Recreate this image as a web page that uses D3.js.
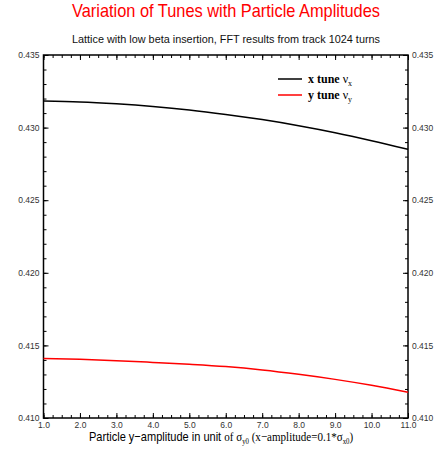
<!DOCTYPE html>
<html>
<head>
<meta charset="utf-8">
<script src="https://cdn.jsdelivr.net/npm/d3@7"></script>
<style>
  body { margin: 0; background: #fff; }
  svg { display: block; }
</style>
</head>
<body>
<div id="chart"></div>
<script>
// amplitude in units of sigma_y0
var amplitudes = [1, 2, 3, 4, 5, 6, 7, 8, 9, 10, 11];
var xTune = [0.43183, 0.43177, 0.43164, 0.43146, 0.43122, 0.43091, 0.43055, 0.43013, 0.42965, 0.42910, 0.42850];
var yTune = [0.41409, 0.41404, 0.41395, 0.41383, 0.41370, 0.41354, 0.41331, 0.41301, 0.41266, 0.41225, 0.41177];
var xTicks = [1, 2, 3, 4, 5, 6, 7, 8, 9, 10, 11];
var yTicks = [0.410, 0.415, 0.420, 0.425, 0.430, 0.435];

var W = 438, H = 451;
var margin = {top: 55, right: 30, bottom: 33, left: 43.5},
    width = W - margin.left - margin.right,
    height = H - margin.top - margin.bottom;

var svg = d3.select("#chart")
  .append("svg")
    .attr("width", W)
    .attr("height", H);

// titles use a narrow face in the original, so squeeze them to width
svg.append("text")
  .attr("x", 72).attr("y", 17)
  .attr("textLength", 308).attr("lengthAdjust", "spacingAndGlyphs")
  .attr("font-family", "Liberation Sans, Arial, sans-serif")
  .attr("font-size", 18.5)
  .attr("fill", "#ff0000")
  .text("Variation of Tunes with Particle Amplitudes");

svg.append("text")
  .attr("x", 72).attr("y", 43)
  .attr("textLength", 308).attr("lengthAdjust", "spacingAndGlyphs")
  .attr("font-family", "Liberation Sans, Arial, sans-serif")
  .attr("font-size", 11.5)
  .attr("fill", "#111")
  .text("Lattice with low beta insertion, FFT results from track 1024 turns");

var g = svg.append("g")
  .attr("transform", "translate(" + margin.left + "," + margin.top + ")");

var x = d3.scaleLinear().domain([1, 11]).range([0, width]);
var y = d3.scaleLinear().domain([0.410, 0.435]).range([height, 0]);

var minorX = d3.range(1, 11.001, 0.25);
var minorY = d3.range(0.410, 0.43501, 0.001);

function styleAxis(sel) {
  sel.select(".domain").remove();
  sel.selectAll("line").attr("stroke", "#000").attr("stroke-width", 1);
  sel.selectAll("text")
    .attr("font-family", "Liberation Sans, Arial, sans-serif")
    .attr("font-size", 8.5)
    .attr("fill", "#333");
}

// minor ticks (inward)
g.append("g").attr("transform", "translate(0," + height + ")")
  .call(d3.axisBottom(x).tickValues(minorX).tickSize(-3).tickFormat(""))
  .call(styleAxis);
g.append("g")
  .call(d3.axisTop(x).tickValues(minorX).tickSize(-3).tickFormat(""))
  .call(styleAxis);
g.append("g")
  .call(d3.axisLeft(y).tickValues(minorY).tickSize(-3).tickFormat(""))
  .call(styleAxis);
g.append("g").attr("transform", "translate(" + width + ",0)")
  .call(d3.axisRight(y).tickValues(minorY).tickSize(-3).tickFormat(""))
  .call(styleAxis);

// major ticks
g.append("g").attr("transform", "translate(0," + height + ")")
  .call(d3.axisBottom(x).tickValues(xTicks).tickSize(-5).tickPadding(4).tickFormat(d3.format(".1f")))
  .call(styleAxis);
g.append("g")
  .call(d3.axisTop(x).tickValues(xTicks).tickSize(-5).tickFormat(""))
  .call(styleAxis);
g.append("g")
  .call(d3.axisLeft(y).tickValues(yTicks).tickSize(-5).tickPadding(4).tickFormat(d3.format(".3f")))
  .call(styleAxis);
g.append("g").attr("transform", "translate(" + width + ",0)")
  .call(d3.axisRight(y).tickValues(yTicks).tickSize(-5).tickPadding(4).tickFormat(d3.format(".3f")))
  .call(styleAxis);

// frame
g.append("rect")
  .attr("width", width).attr("height", height)
  .attr("fill", "none").attr("stroke", "#000").attr("stroke-width", 1.5);

var line = d3.line()
  .curve(d3.curveMonotoneX)
  .x(function(d) { return x(d[0]); })
  .y(function(d) { return y(d[1]); });

g.append("path")
  .datum(d3.zip(amplitudes, xTune))
  .attr("fill", "none").attr("stroke", "#000").attr("stroke-width", 1.5)
  .attr("d", line);

g.append("path")
  .datum(d3.zip(amplitudes, yTune))
  .attr("fill", "none").attr("stroke", "#ff0000").attr("stroke-width", 1.5)
  .attr("d", line);

// legend
var legend = [
  {name: "x tune ", sub: "x", color: "#000"},
  {name: "y tune ", sub: "y", color: "#ff0000"}
];
var lg = svg.append("g").attr("transform", "translate(278,79)");
legend.forEach(function(d, i) {
  var row = lg.append("g").attr("transform", "translate(0," + (i * 16) + ")");
  row.append("line").attr("x1", 0).attr("x2", 24)
    .attr("stroke", d.color).attr("stroke-width", 1.5);
  var t = row.append("text").attr("x", 30).attr("y", 4)
    .attr("font-family", "Liberation Serif, Times New Roman, serif")
    .attr("font-size", 12).attr("fill", "#000");
  t.append("tspan").attr("font-weight", "bold").text(d.name);
  t.append("tspan").text("\u03bd");
  t.append("tspan").attr("font-size", 8).attr("dy", 3).text(d.sub);
});

// x axis title: sans part then serif part, squeezed horizontally
var serif = "Liberation Serif, Times New Roman, serif";
var xt = svg.append("text")
  .attr("transform", "translate(89,441) scale(0.85,1)")
  .attr("font-size", 13).attr("fill", "#000");
xt.append("tspan").attr("font-family", "Liberation Sans, Arial, sans-serif")
  .text("Particle y\u2212amplitude in unit ");
xt.append("tspan").attr("font-family", serif)
  .text("of \u03c3");
xt.append("tspan").attr("font-family", serif)
  .attr("font-size", 8).attr("dy", 3).text("y0");
xt.append("tspan").attr("font-family", serif)
  .attr("dy", -3).text(" (x\u2212amplitude=0.1*\u03c3");
xt.append("tspan").attr("font-family", serif)
  .attr("font-size", 8).attr("dy", 3).text("x0");
xt.append("tspan").attr("font-family", serif)
  .attr("dy", -3).text(")");
</script>
</body>
</html>
